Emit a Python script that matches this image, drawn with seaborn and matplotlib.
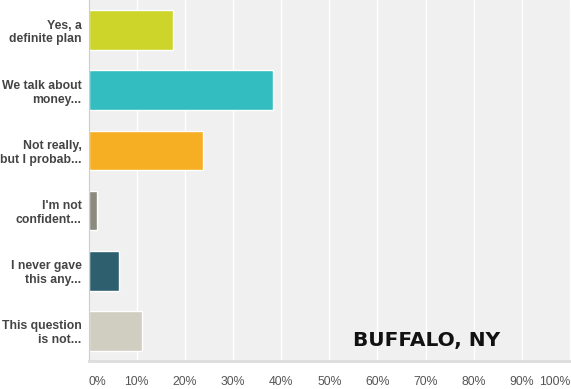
import matplotlib
matplotlib.use("Agg")
import matplotlib.pyplot as plt
import seaborn as sns
import pandas as pd

# ==========================================
# Data
# ==========================================

answers = [
    "Yes, a\ndefinite plan",
    "We talk about\nmoney...",
    "Not really,\nbut I probab...",
    "I'm not\nconfident...",
    "I never gave\nthis any...",
    "This question\nis not...",
]
percent = [17.6, 38.4, 23.8, 1.8, 6.3, 11.1]
bar_colors = ["#CDD42A", "#33BDC0", "#F6AF22", "#8B8A7E", "#2E5F6E", "#D0CEC1"]
xticks = [0, 10, 20, 30, 40, 50, 60, 70, 80, 90, 100]
xtick_labels = [f"{t}%" for t in xticks]

df = pd.DataFrame({"answer": answers, "percent": percent})

# ==========================================
# Plot
# ==========================================

sns.set_style("white")
plt.rcParams["font.family"] = ["Liberation Sans", "DejaVu Sans"]

fig = plt.figure(figsize=(5.71, 3.89), dpi=100)
ax = fig.add_axes([88.5 / 571, 28 / 389, (570 - 88.5) / 571, 361 / 389])
ax.set_facecolor("#F0F0F0")

sns.barplot(
    data=df,
    x="percent",
    y="answer",
    hue="answer",
    palette=bar_colors,
    width=0.66,
    legend=False,
    saturation=1,
    ax=ax,
)

ax.set_xlim(0, 100)
ax.set_ylim(5.5, -0.5)
ax.set_xticks(xticks)
ax.set_xticklabels(xtick_labels, fontsize=8.8, color="#555555")
ax.tick_params(axis="x", length=0, pad=11)
ax.tick_params(axis="y", length=0, pad=5)
for lab in ax.get_yticklabels():
    lab.set_fontweight("bold")
    lab.set_color("#444444")
    lab.set_fontsize(8.8)
    lab.set_multialignment("right")

xl = ax.get_xticklabels()
xl[0].set_ha("left")
xl[-1].set_ha("right")

ax.grid(axis="x", color="white", linewidth=1)
ax.set_axisbelow(True)
ax.set_xlabel("")
ax.set_ylabel("")

for side in ["top", "right"]:
    ax.spines[side].set_visible(False)
ax.spines["left"].set_color("#CCCCCC")
ax.spines["bottom"].set_color("#DDDDDD")
ax.spines["bottom"].set_linewidth(2)

ax.text(
    0.855, 0.03, "BUFFALO, NY",
    transform=ax.transAxes,
    ha="right", va="bottom",
    fontsize=14.5, fontweight="heavy",
    color="#111111",
    family="DejaVu Sans",
)

fig.savefig("out.png", dpi=100, facecolor="white")
